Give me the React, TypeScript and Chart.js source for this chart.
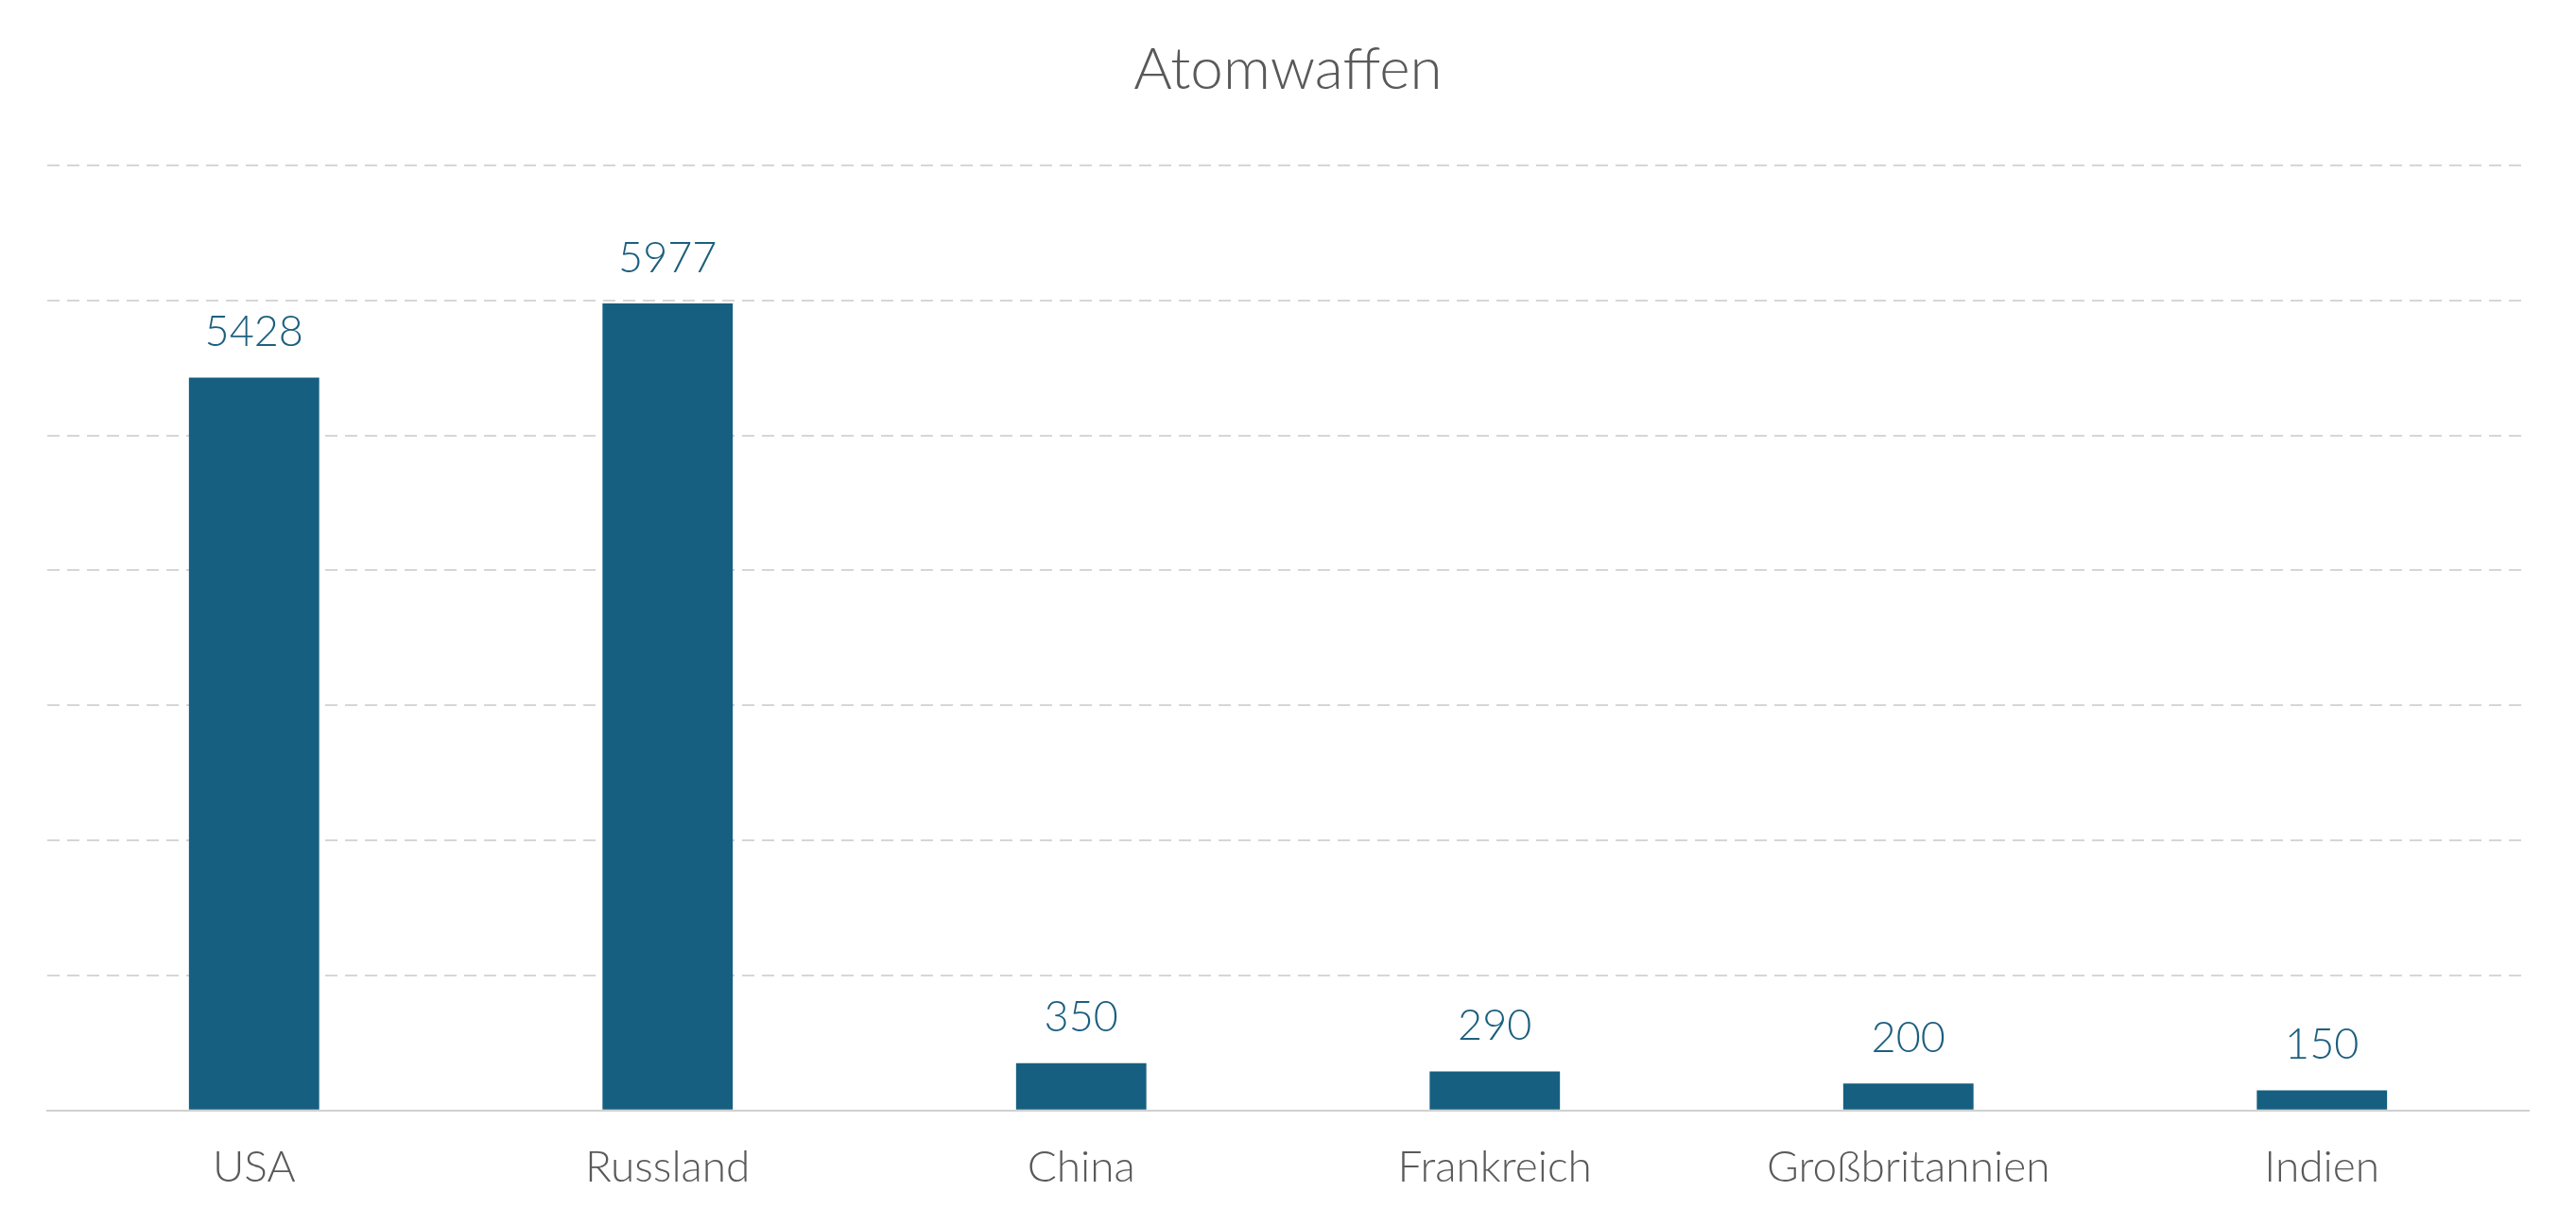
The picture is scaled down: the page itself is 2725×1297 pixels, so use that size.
import React, { useEffect, useRef } from "react";
import { Chart, registerables } from "chart.js";

Chart.register(...registerables);

const categories = ["USA", "Russland", "China", "Frankreich", "Großbritannien", "Indien"];
const values = [5428, 5977, 350, 290, 200, 150];
const chartTitle = "Atomwaffen";
const yMax = 7000;
const yStep = 1000;

const FONT = "Lato, 'Open Sans', sans-serif";
const BAR_COLOR = "#165f80";
const LABEL_COLOR = "#1c5f7f";
const TEXT_COLOR = "#595959";

const valueLabels = {
  id: "valueLabels",
  afterDatasetsDraw(chart: any) {
    const ctx = chart.ctx;
    const meta = chart.getDatasetMeta(0);
    ctx.save();
    ctx.font = `300 45px ${FONT}`;
    ctx.fillStyle = LABEL_COLOR;
    ctx.textAlign = "center";
    ctx.textBaseline = "middle";
    meta.data.forEach((bar: any, i: number) => {
      const v = chart.data.datasets[0].data[i];
      ctx.fillText(String(v), bar.x, bar.y - 48);
    });
    ctx.restore();
  },
};

export default function App() {
  const ref = useRef<HTMLCanvasElement | null>(null);
  useEffect(() => {
    if (!ref.current) return;
    const chart = new Chart(ref.current, {
      type: "bar",
      data: {
        labels: categories,
        datasets: [
          {
            data: values,
            backgroundColor: BAR_COLOR,
            categoryPercentage: 1,
            barPercentage: 0.315,
          },
        ],
      },
      options: {
        animation: false,
        responsive: false,
        layout: { padding: { left: 50, right: 50, bottom: 1, top: 0 } },
        plugins: {
          legend: { display: false },
          tooltip: { enabled: false },
          title: {
            display: true,
            text: chartTitle,
            color: TEXT_COLOR,
            font: { family: FONT, size: 62, weight: "300" as any, lineHeight: 1.2 },
            padding: { top: 37, bottom: 63.6 },
          },
        },
        scales: {
          x: {
            grid: { display: false, drawTicks: false },
            border: { display: true, color: "#d0d0d0", width: 2 },
            ticks: {
              color: TEXT_COLOR,
              font: { family: FONT, size: 46, weight: "300" as any, lineHeight: 1.2 },
              padding: 33,
            },
          },
          y: {
            min: 0,
            max: yMax,
            ticks: { display: false, stepSize: yStep },
            grid: {
              drawTicks: false,
              lineWidth: 2,
              color: (c: any) => (c.tick && c.tick.value === 0 ? "rgba(0,0,0,0)" : "#d6d6d6"),
            },
            border: { display: false, dash: [13, 8] },
          },
        },
      },
      plugins: [valueLabels],
    });
    return () => chart.destroy();
  }, []);
  return (
    <div style={{ position: "fixed", left: 0, top: 0, width: 2725, height: 1297, background: "#fff" }}>
      <canvas ref={ref} width={2725} height={1297} style={{ display: "block" }} />
    </div>
  );
}
